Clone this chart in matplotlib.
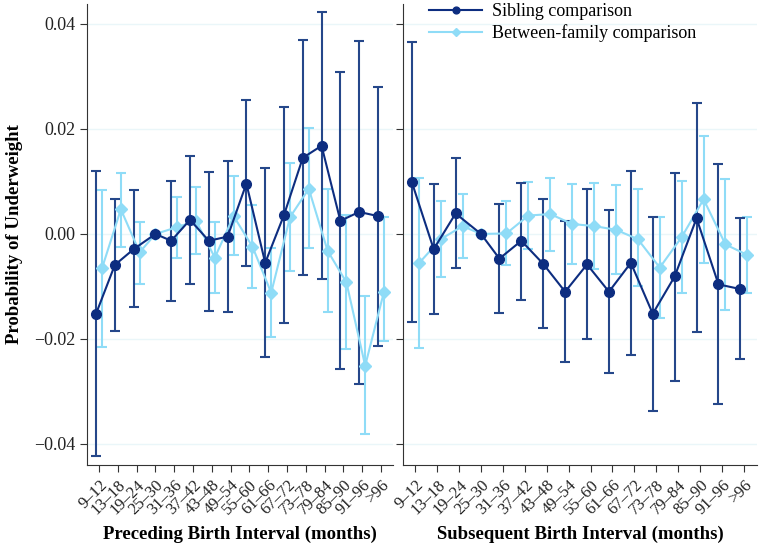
import numpy as np
import matplotlib
matplotlib.use("Agg")
import matplotlib.pyplot as plt

plt.rcParams["font.family"] = ["Liberation Serif", "DejaVu Serif"]

intervals = ["9\u201312", "13\u201318", "19\u201324", "25\u201330", "31\u201336", "37\u201342",
             "43\u201348", "49\u201354", "55\u201360", "61\u201366", "67\u201372", "73\u201378",
             "79\u201384", "85\u201390", "91\u201396", ">96"]

# preceding birth interval
pre_sib = [-0.0152, -0.0059, -0.0029, 0.0, -0.0013, 0.0027, -0.0013, -0.0005,
           0.0096, -0.0055, 0.0036, 0.0145, 0.0168, 0.0025, 0.0042, 0.0034]
pre_sib_lo = [-0.0423, -0.0184, -0.0140, 0.0, -0.0127, -0.0096, -0.0146, -0.0149,
              -0.0061, -0.0234, -0.0169, -0.0079, -0.0085, -0.0258, -0.0285, -0.0213]
pre_sib_hi = [0.0119, 0.0066, 0.0083, 0.0, 0.0100, 0.0149, 0.0118, 0.0139,
              0.0255, 0.0125, 0.0241, 0.0370, 0.0422, 0.0309, 0.0368, 0.0279]

pre_btw = [-0.0065, 0.0047, -0.0035, 0.0, 0.0013, 0.0025, -0.0045, 0.0034,
           -0.0024, -0.0112, 0.0032, 0.0086, -0.0032, -0.0092, -0.0251, -0.0110]
pre_btw_lo = [-0.0216, -0.0024, -0.0095, 0.0, -0.0045, -0.0038, -0.0112, -0.0040,
              -0.0102, -0.0197, -0.0070, -0.0027, -0.0149, -0.0220, -0.0381, -0.0203]
pre_btw_hi = [0.0083, 0.0117, 0.0023, 0.0, 0.0071, 0.0090, 0.0022, 0.0111,
              0.0055, -0.0027, 0.0135, 0.0202, 0.0086, 0.0037, -0.0119, 0.0033]

# subsequent birth interval
sub_sib = [0.0099, -0.0029, 0.0039, 0.0, -0.0047, -0.0013, -0.0057, -0.0110,
           -0.0058, -0.0110, -0.0055, -0.0152, -0.0081, 0.0030, -0.0096, -0.0105]
sub_sib_lo = [-0.0168, -0.0152, -0.0064, 0.0, -0.0151, -0.0126, -0.0180, -0.0243,
              -0.0201, -0.0265, -0.0230, -0.0337, -0.0280, -0.0187, -0.0324, -0.0239]
sub_sib_hi = [0.0365, 0.0095, 0.0145, 0.0, 0.0057, 0.0098, 0.0066, 0.0025,
              0.0086, 0.0046, 0.0119, 0.0032, 0.0117, 0.0249, 0.0133, 0.0031]

sub_btw = [-0.0056, -0.0010, 0.0015, 0.0, 0.0001, 0.0035, 0.0038, 0.0019,
           0.0015, 0.0008, -0.0010, -0.0064, -0.0006, 0.0066, -0.0020, -0.0040]
sub_btw_lo = [-0.0218, -0.0082, -0.0046, 0.0, -0.0059, -0.0029, -0.0032, -0.0058,
              -0.0067, -0.0077, -0.0100, -0.0160, -0.0112, -0.0056, -0.0145, -0.0112]
sub_btw_hi = [0.0107, 0.0062, 0.0077, 0.0, 0.0062, 0.0099, 0.0107, 0.0095,
              0.0097, 0.0093, 0.0085, 0.0033, 0.0100, 0.0187, 0.0105, 0.0033]

dark = "#0d2d80"
dark_bar = "#25478a"
light = "#8fdcf7"
grid_c = "#eaf6f9"

fig = plt.figure(figsize=(7.6, 5.48), dpi=100)
ax1 = fig.add_axes([0.1145, 0.1515, 0.4026, 0.8412])
ax2 = fig.add_axes([0.5303, 0.1515, 0.4658, 0.8412])

x = np.arange(len(intervals))
off = 0.16


def draw(ax, sib, sib_lo, sib_hi, btw, btw_lo, btw_hi):
    sib = np.array(sib)
    btw = np.array(btw)
    ref = sib == 0
    # error bars (reference category has none)
    m = ~ref
    ax.errorbar(x[m] + off, btw[m],
                yerr=[btw[m] - np.array(btw_lo)[m], np.array(btw_hi)[m] - btw[m]],
                fmt="none", ecolor=light, elinewidth=1.5, capsize=3.5, capthick=1.5, zorder=2)
    ax.errorbar(x[m] - off, sib[m],
                yerr=[sib[m] - np.array(sib_lo)[m], np.array(sib_hi)[m] - sib[m]],
                fmt="none", ecolor=dark_bar, elinewidth=1.5, capsize=3.5, capthick=1.5, zorder=3)
    xs_b = np.where(ref, x, x + off)
    xs_s = np.where(ref, x, x - off)
    ax.plot(xs_b, btw, color=light, lw=1.5, marker="D", ms=6.5, zorder=4,
            label="Between-family comparison")
    ax.plot(xs_s, sib, color=dark, lw=1.5, marker="o", ms=7, zorder=5,
            label="Sibling comparison")
    ax.set_ylim(-0.044, 0.0438)
    ax.set_yticks([-0.04, -0.02, 0.0, 0.02, 0.04])
    ax.set_xticks(x)
    ax.set_xticklabels(intervals, rotation=45, ha="right", rotation_mode="anchor",
                       fontsize=12)
    for sp in ["top", "right"]:
        ax.spines[sp].set_visible(False)
    for sp in ["left", "bottom"]:
        ax.spines[sp].set_color("#333333")
    ax.grid(axis="y", color=grid_c, lw=1)
    ax.set_axisbelow(True)
    ax.tick_params(axis="both", colors="#333333", labelcolor="#222222", length=5)


draw(ax1, pre_sib, pre_sib_lo, pre_sib_hi, pre_btw, pre_btw_lo, pre_btw_hi)
draw(ax2, sub_sib, sub_sib_lo, sub_sib_hi, sub_btw, sub_btw_lo, sub_btw_hi)

ax1.set_xlim(-0.64, 15.64)
ax2.set_xlim(-0.56, 15.6)
ax1.set_yticklabels(["\u22120.04", "\u22120.02", "0.00", "0.02", "0.04"], fontsize=13)
ax2.set_yticklabels([])

ax1.set_ylabel("Probability of Underweight", fontsize=13.5, fontweight="bold", labelpad=8)
ax1.set_xlabel("Preceding Birth Interval (months)", fontsize=13.5, fontweight="bold", labelpad=6)
ax2.set_xlabel("Subsequent Birth Interval (months)", fontsize=13.5, fontweight="bold", labelpad=6)

h, l = ax2.get_legend_handles_labels()
ax2.legend(h[::-1], l[::-1], loc="upper left", bbox_to_anchor=(0.044, 1.025), frameon=False,
           fontsize=13, handlelength=2.9, handletextpad=0.55, labelspacing=0.22,
           markerscale=0.7, borderaxespad=0.2)

fig.savefig("out.png", dpi=100)
